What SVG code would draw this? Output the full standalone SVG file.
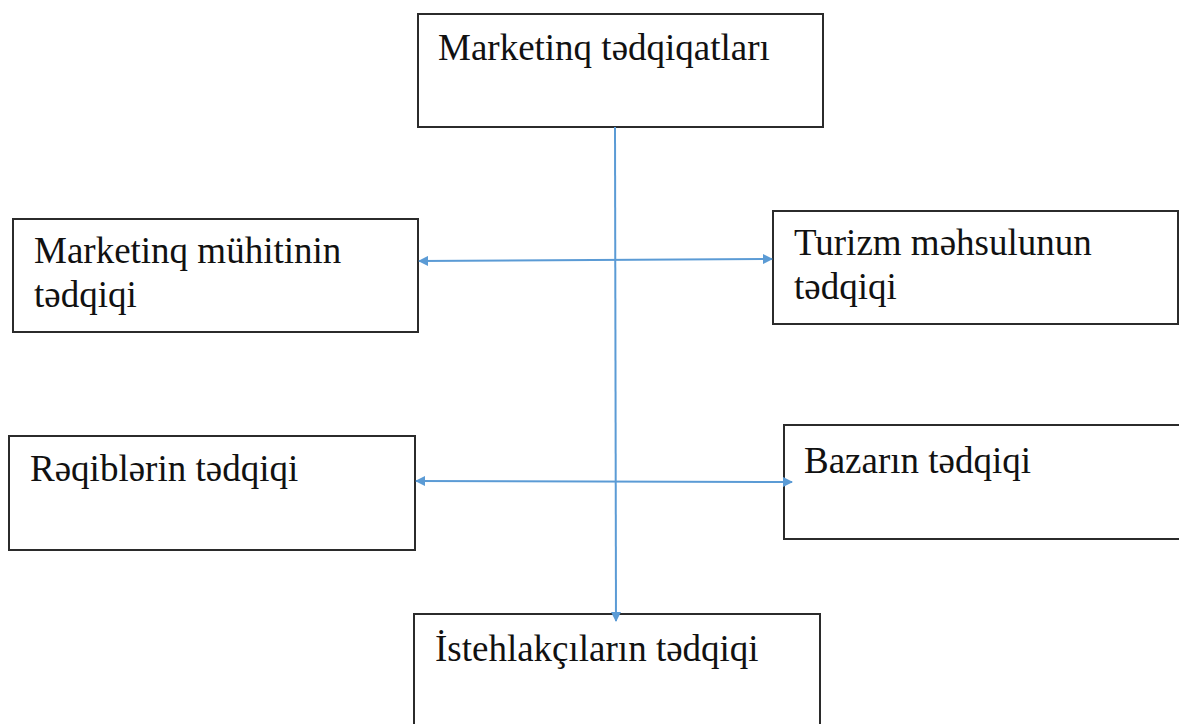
<svg xmlns="http://www.w3.org/2000/svg" width="1179" height="724" viewBox="0 0 1179 724">
<defs>
<style>
.box{fill:#fff;stroke:#2b2b2b;stroke-width:2}
.t{font-family:'Liberation Serif','Times New Roman',serif;font-size:37px;fill:#111}
.c{stroke:#5b9bd5;stroke-width:2;fill:none}
</style>
<marker id="ah" viewBox="0 0 10 10" refX="9" refY="5" markerWidth="10" markerHeight="10" markerUnits="userSpaceOnUse" orient="auto-start-reverse">
<path d="M0,0 L10,5 L0,10 z" fill="#5b9bd5"/>
</marker>
</defs>
<rect width="1179" height="724" fill="#fff"/>
<g id="n1"><rect class="box" x="418" y="14" width="405" height="113"/><text class="t" x="438" y="60">Marketinq tədqiqatları</text></g>
<g id="n2"><rect class="box" x="13" y="219" width="405" height="113"/><text class="t" x="34" y="263">Marketinq mühitinin</text><text class="t" x="34" y="307">tədqiqi</text></g>
<g id="n3"><rect class="box" x="773" y="211" width="405" height="113"/><text class="t" x="794" y="255">Turizm məhsulunun</text><text class="t" x="794" y="299">tədqiqi</text></g>
<g id="n4"><rect class="box" x="9" y="436" width="406" height="114"/><text class="t" x="30" y="481">Rəqiblərin tədqiqi</text></g>
<g id="n5"><rect class="box" x="784" y="425" width="400" height="114"/><text class="t" x="804" y="473">Bazarın tədqiqi</text></g>
<g id="n6"><rect class="box" x="414" y="614" width="406" height="120"/><text class="t" x="435" y="661">İstehlakçıların tədqiqi</text></g>
<g id="connectors">
<line class="c" x1="615" y1="127" x2="616" y2="621" marker-end="url(#ah)"/>
<line class="c" x1="419" y1="261" x2="772" y2="259" marker-start="url(#ah)" marker-end="url(#ah)"/>
<line class="c" x1="416" y1="481" x2="792" y2="482" marker-start="url(#ah)" marker-end="url(#ah)"/>
</g>
</svg>
